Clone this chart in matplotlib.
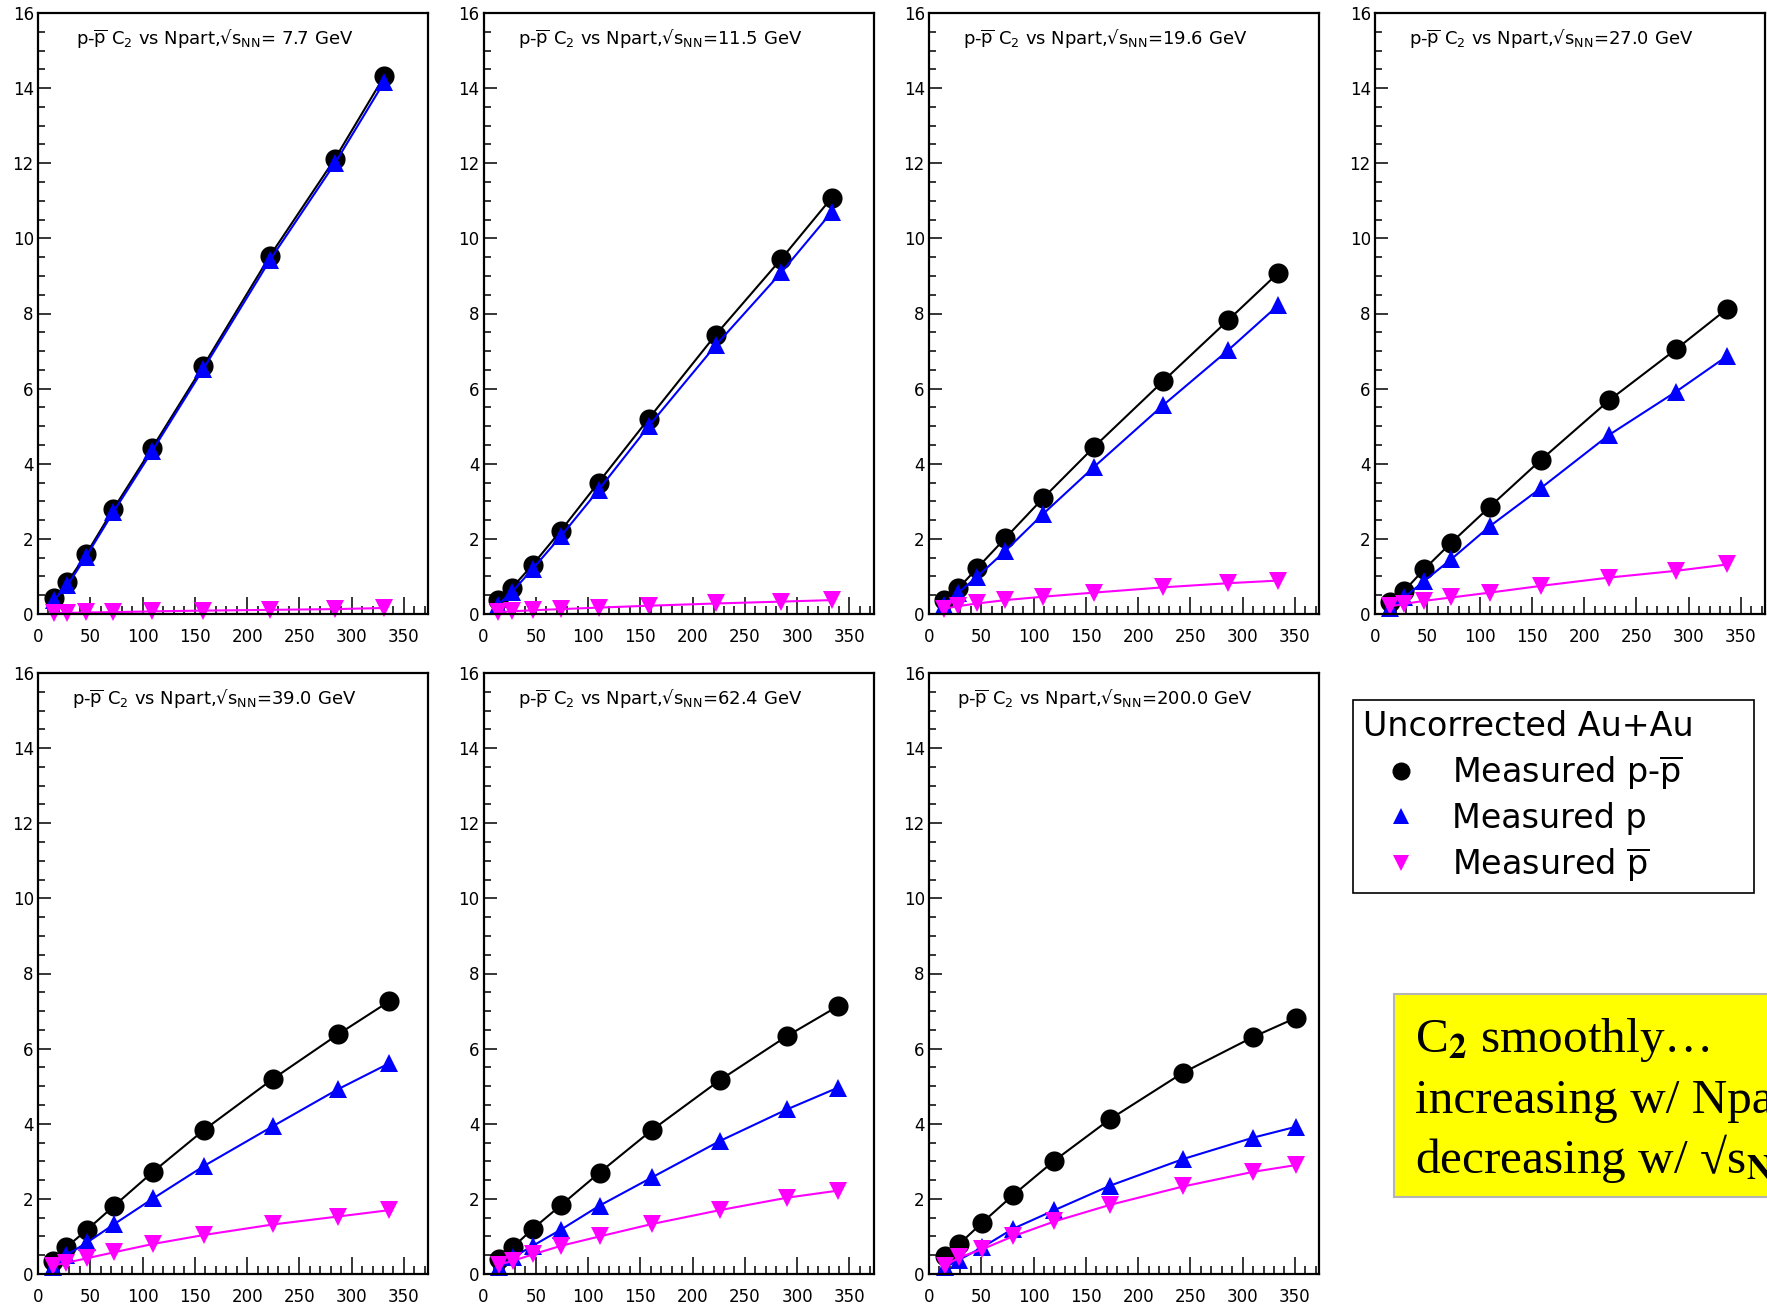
import matplotlib
matplotlib.use("Agg")
import matplotlib.pyplot as plt
from matplotlib.ticker import MultipleLocator
from matplotlib.lines import Line2D
from matplotlib.patches import Rectangle

# -----------------------------------------
# C2 of net-proton, proton and anti-proton vs Npart (Au+Au, uncorrected)
# -----------------------------------------
energies = ["7.7", "11.5", "19.6", "27.0", "39.0", "62.4", "200.0"]

npart_7p7 = [15, 28, 46, 72, 109, 158, 222, 284, 331]
net_7p7 = [0.42, 0.84, 1.59, 2.79, 4.41, 6.60, 9.54, 12.12, 14.31]
p_7p7 = [0.36, 0.76, 1.53, 2.71, 4.33, 6.52, 9.43, 12.00, 14.16]
pbar_7p7 = [0.02, 0.03, 0.04, 0.05, 0.07, 0.09, 0.11, 0.13, 0.16]

npart_11p5 = [14, 27, 47, 74, 110, 158, 222, 285, 333]
net_11p5 = [0.37, 0.69, 1.31, 2.22, 3.50, 5.20, 7.43, 9.46, 11.08]
p_11p5 = [0.25, 0.58, 1.20, 2.07, 3.30, 5.00, 7.15, 9.10, 10.70]
pbar_11p5 = [0.05, 0.07, 0.10, 0.13, 0.17, 0.22, 0.28, 0.33, 0.37]

npart_19p6 = [14, 28, 46, 73, 109, 158, 224, 286, 334]
net_19p6 = [0.37, 0.68, 1.22, 2.02, 3.08, 4.45, 6.20, 7.82, 9.08]
p_19p6 = [0.25, 0.57, 0.99, 1.68, 2.66, 3.92, 5.56, 7.02, 8.22]
pbar_19p6 = [0.14, 0.21, 0.28, 0.37, 0.46, 0.57, 0.71, 0.82, 0.89]

npart_27 = [14, 28, 47, 73, 110, 159, 224, 288, 337]
net_27 = [0.31, 0.62, 1.19, 1.90, 2.86, 4.11, 5.69, 7.05, 8.13]
p_27 = [0.15, 0.44, 0.88, 1.46, 2.34, 3.36, 4.77, 5.92, 6.87]
pbar_27 = [0.20, 0.27, 0.35, 0.44, 0.57, 0.75, 0.97, 1.15, 1.32]

npart_39 = [14, 27, 47, 73, 110, 159, 225, 287, 336]
net_39 = [0.35, 0.71, 1.18, 1.82, 2.72, 3.84, 5.20, 6.38, 7.26]
p_39 = [0.18, 0.50, 0.84, 1.33, 2.01, 2.88, 3.94, 4.92, 5.61]
pbar_39 = [0.22, 0.30, 0.42, 0.58, 0.80, 1.04, 1.32, 1.53, 1.70]

npart_62p4 = [15, 28, 47, 74, 111, 161, 226, 290, 339]
net_62p4 = [0.40, 0.71, 1.20, 1.83, 2.70, 3.83, 5.16, 6.33, 7.13]
p_62p4 = [0.18, 0.44, 0.75, 1.18, 1.82, 2.57, 3.54, 4.38, 4.96]
pbar_62p4 = [0.25, 0.35, 0.52, 0.75, 1.00, 1.33, 1.70, 2.03, 2.22]

npart_200 = [15, 29, 51, 80, 120, 173, 243, 310, 351]
net_200 = [0.49, 0.80, 1.37, 2.09, 3.02, 4.12, 5.36, 6.31, 6.82]
p_200 = [0.18, 0.38, 0.71, 1.20, 1.70, 2.35, 3.06, 3.63, 3.92]
pbar_200 = [0.22, 0.44, 0.66, 1.00, 1.40, 1.84, 2.33, 2.72, 2.90]

panels = [
    (npart_7p7, net_7p7, p_7p7, pbar_7p7),
    (npart_11p5, net_11p5, p_11p5, pbar_11p5),
    (npart_19p6, net_19p6, p_19p6, pbar_19p6),
    (npart_27, net_27, p_27, pbar_27),
    (npart_39, net_39, p_39, pbar_39),
    (npart_62p4, net_62p4, p_62p4, pbar_62p4),
    (npart_200, net_200, p_200, pbar_200),
]

# -----------------------------------------
# Figure and pad layout (pixels)
# -----------------------------------------
W, H = 1767, 1307
fig = plt.figure(figsize=(W / 100, H / 100), dpi=100)

col_left = [38, 483.5, 929, 1375]
row_top = [13, 673]
pad_w, pad_h = 390, 601


def add_pad(left, top):
    return fig.add_axes([left / W, 1 - (top + pad_h) / H, pad_w / W, pad_h / H])


for i, (energy, (npart, net, p, pbar)) in enumerate(zip(energies, panels)):
    ax = add_pad(col_left[i % 4], row_top[i // 4])

    ax.plot(npart, net, "-o", color="black", lw=1.5, ms=14.5, mew=0, clip_on=False)
    ax.plot(npart, p, "-^", color="#0000ff", lw=1.5, ms=13.5, mew=0, clip_on=False)
    ax.plot(npart, pbar, "-v", color="#ff00ff", lw=1.5, ms=13.5, mew=0, clip_on=False)

    ax.set_xlim(0, 373)
    ax.set_ylim(0, 16)
    ax.xaxis.set_major_locator(MultipleLocator(50))
    ax.xaxis.set_minor_locator(MultipleLocator(10))
    ax.yaxis.set_major_locator(MultipleLocator(2))
    ax.yaxis.set_minor_locator(MultipleLocator(0.5))
    ax.tick_params(axis="x", which="major", direction="in", length=12, width=1.1,
                   labelsize=12, pad=10)
    ax.tick_params(axis="x", which="minor", direction="in", length=6, width=1.1)
    ax.tick_params(axis="y", which="major", direction="in", length=9.5, width=1.1,
                   labelsize=12, pad=3)
    ax.tick_params(axis="y", which="minor", direction="in", length=5, width=1.1)
    for s in ax.spines.values():
        s.set_linewidth(1.6)

    sep = " " if len(energy) < 4 else ""
    title = ("p-$\\overline{\\mathrm{p}}$ C$_2$ vs Npart,\u221as$_{\\mathrm{NN}}$="
             + sep + energy + " GeV")
    ax.text(0.452, 0.949, title, transform=ax.transAxes, ha="center",
            va="baseline", fontsize=13)

# -----------------------------------------
# Legend
# -----------------------------------------
handles = [
    Line2D([], [], ls="none", marker="o", color="black", ms=13, mew=0),
    Line2D([], [], ls="none", marker="^", color="#0000ff", ms=12, mew=0),
    Line2D([], [], ls="none", marker="v", color="#ff00ff", ms=12, mew=0),
]
labels = ["Measured p-$\\overline{\\mathrm{p}}$", "Measured p",
          "Measured $\\overline{\\mathrm{p}}$"]
leg = fig.legend(handles, labels, title="Uncorrected Au+Au", loc="upper left",
                 bbox_to_anchor=(1353 / W, 1 - 891 / H, 401 / W, 191 / H),
                 bbox_transform=fig.transFigure, mode="expand",
                 fontsize=24, title_fontsize=24, alignment="left",
                 fancybox=False, framealpha=1, edgecolor="black",
                 borderpad=0.3, handlelength=2.3, handletextpad=0.38,
                 labelspacing=0.31, borderaxespad=0)
leg.get_frame().set_linewidth(1.2)

# -----------------------------------------
# Yellow comment box
# -----------------------------------------
fig.add_artist(Rectangle((1394 / W, 1 - 1197 / H), 420 / W, 203 / H,
                         transform=fig.transFigure, facecolor="#ffff00",
                         edgecolor="#b4b4b4", lw=1.5))
serif = ["Liberation Serif", "DejaVu Serif"]
comment = ["C$_{\\mathbf{2}}$ smoothly\u2026",
           "increasing w/ Npart",
           "decreasing w/ \u221as$_{\\mathbf{NN}}$"]
for line, base in zip(comment, [1052, 1113, 1173]):
    fig.text(1415 / W, 1 - base / H, line, fontsize=35.5, family=serif,
             math_fontfamily="stix", va="baseline")

fig.savefig("out.png", dpi=100)
